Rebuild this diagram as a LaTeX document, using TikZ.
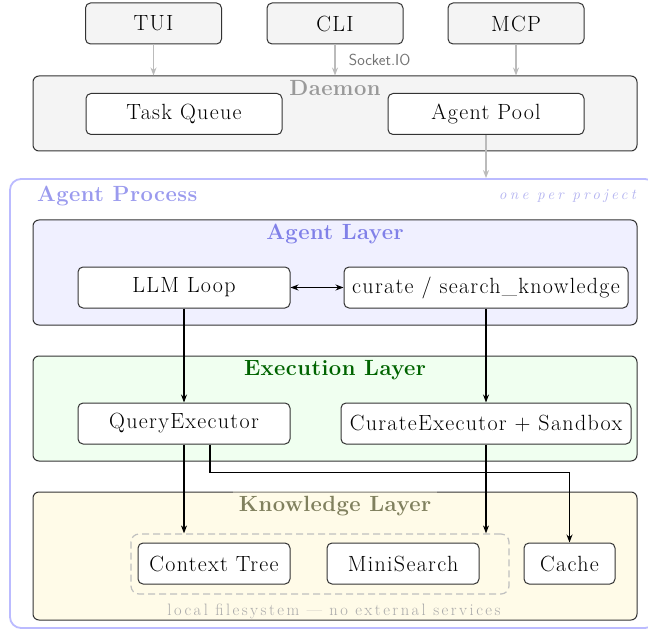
\documentclass[tikz,border=0pt]{standalone}
\usepackage{fontspec}
\setmainfont{Latin Modern Roman}[LetterSpace=6, BoldFeatures={LetterSpace=2}]
\usetikzlibrary{arrows.meta,calc}
\definecolor{bxgray}{HTML}{F4F4F4}
\definecolor{bordr}{HTML}{333333}
\definecolor{arrgray}{HTML}{BBBBBB}
\definecolor{procblue}{HTML}{BBBBFF}
\definecolor{proctxt}{HTML}{9A9AEE}
\definecolor{projtxt}{HTML}{B4B4F0}
\definecolor{agfill}{HTML}{F0F0FF}
\definecolor{agtxt}{HTML}{8080E8}
\definecolor{exfill}{HTML}{F0FFF0}
\definecolor{extxt}{HTML}{006400}
\definecolor{knfill}{HTML}{FFFBE8}
\definecolor{kntxt}{HTML}{80805E}
\definecolor{dashgray}{HTML}{C0C0C0}
\definecolor{lfstxt}{HTML}{AAAAAA}
\newfontfamily\wideitfont{lmroman10-italic.otf}[LetterSpace=22]
\newfontfamily\widesmfont{Latin Modern Roman}[LetterSpace=15]
\newcommand\bigtxt{\fontsize{22}{26}\selectfont}
\tikzset{
  box/.style={draw=bordr, line width=1pt, rounded corners=5pt, fill=white,
    minimum height=41pt, inner sep=0pt, font=\bigtxt},
  topbox/.style={box, fill=bxgray, minimum width=136pt},
  layer/.style={draw=bordr, line width=1pt, rounded corners=6pt, inner sep=0pt,
    minimum width=604pt},
  ttl/.style={font=\bigtxt\bfseries, inner sep=0pt},
  garr/.style={draw=arrgray, line width=1.3pt, -{Stealth[length=8pt,width=6pt]}},
  arr/.style={draw=black, line width=1.2pt, -{Stealth[length=8pt,width=6pt]}},
}
\begin{document}
\begin{tikzpicture}[x=1pt,y=-1pt]
\useasboundingbox (0,0) rectangle (648,631);
% top clients
\node[topbox] (tui) at (153.5,23.5) {TUI};
\node[topbox] (cli) at (335,23.5) {CLI};
\node[topbox] (mcp) at (516,23.5) {MCP};
% daemon
\node[layer, fill=bxgray, minimum height=75pt] (daemon) at (335,113.5) {};
\node[ttl, text=black!40] (dtitle) at (335,88.5) {Daemon};
\node[box, minimum width=196pt] (tq) at (184,114) {Task Queue};
\node[box, minimum width=196pt] (ap) at (486,114) {Agent Pool};
\draw[garr] (tui.south) -- (tui.south |- daemon.north);
\draw[garr] (cli.south) -- (cli.south |- daemon.north)
  node[pos=0.5, anchor=west, xshift=10pt, text=black!55, font=\sffamily\fontsize{16}{18}\selectfont] (sio) {Socket.IO};
\draw[garr] (mcp.south) -- (mcp.south |- daemon.north);
% agent process
\node[draw=procblue, line width=1.8pt, rounded corners=11pt, minimum width=646pt,
  minimum height=449pt, inner sep=0pt] (proc) at (333,403.5) {};
\draw[garr] (ap.south) -- (ap.south |- proc.north);
\node[ttl, text=proctxt, anchor=west] (ptitle) at (37,196) {Agent Process};
\node[inner sep=0pt, anchor=east, text=projtxt,
  font=\wideitfont\fontsize{15}{17}\selectfont] (pp) at (636,196) {one per project};
% agent layer
\node[layer, fill=agfill, minimum height=105pt] (agl) at (335,272.5) {};
\node[ttl, text=agtxt] (agt) at (335,234.5) {Agent Layer};
\node[box, minimum width=212pt] (llm) at (184,287.5) {LLM Loop};
\node[box, minimum width=284pt] (cur) at (486,287.5) {curate / search\_knowledge};
\draw[draw=black, line width=1.2pt, {Stealth[length=8pt,width=6pt]}-{Stealth[length=8pt,width=6pt]}] (llm.east) -- (cur.west);
% execution layer
\node[layer, fill=exfill, minimum height=105pt] (exl) at (335,408.5) {};
\node[ttl, text=extxt] (ext) at (335,370.5) {Execution Layer};
\node[box, minimum width=212pt] (qe) at (184,423.5) {QueryExecutor};
\node[box, minimum width=290pt] (ce) at (486,423.5) {CurateExecutor + Sandbox};
\draw[arr] (llm.south) -- (qe.north);
\draw[arr] (cur.south) -- (cur.south |- ce.north);
% knowledge layer
\node[layer, fill=knfill, minimum height=128pt] (knl) at (335,556) {};
\node[ttl, text=kntxt, fill=knfill, fill opacity=0.35, text opacity=1,
  minimum width=204pt, minimum height=30pt] (knt) at (335,506) {Knowledge Layer};
\node[draw=dashgray, line width=1.2pt, dash pattern=on 7pt off 4pt, rounded corners=8pt,
  minimum width=378pt, minimum height=60pt, inner sep=0pt] (grp) at (320,564) {};
\node[box, minimum width=152pt] (ct) at (214,563.5) {Context Tree};
\node[box, minimum width=152pt] (ms) at (403,563.5) {MiniSearch};
\node[box, minimum width=91pt] (cache) at (569.5,563.5) {Cache};
\node[inner sep=0pt, text=lfstxt, font=\widesmfont\fontsize{16.5}{19}\selectfont] (lfs) at (334,611) {local filesystem — no external services};
\draw[arr] (qe.south) -- (qe.south |- grp.north);
\draw[arr] (ce.south) -- (ce.south |- grp.north);
\draw[arr] ([xshift=26pt]qe.south) -- ++(0,28) -| (cache.north);
\end{tikzpicture}
\end{document}
